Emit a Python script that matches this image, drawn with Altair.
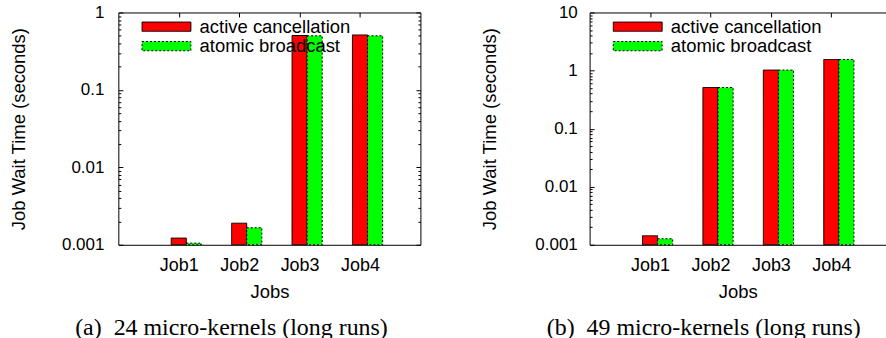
import altair as alt
import pandas as pd

jobs = ["Job1", "Job2", "Job3", "Job4"]
series = ["active cancellation", "atomic broadcast"]
left_active = [0.00122, 0.0019, 0.504, 0.513]
left_atomic = [0.00105, 0.00166, 0.50, 0.50]
right_active = [0.00143, 0.51, 1.02, 1.55]
right_atomic = [0.00127, 0.51, 1.02, 1.55]
left_ticks = [0.001, 0.01, 0.1, 1]
right_ticks = [0.001, 0.01, 0.1, 1, 10]
colors = ["#ff0000", "#00ff00"]
outline = ["black", "black"]
dashes = [[1, 0], [2, 2]]
caption_a = "(a)\u200224 micro-kernels (long runs)"
caption_b = "(b)\u200249 micro-kernels (long runs)"
y_title = "Job Wait Time (seconds)"
x_title = "Jobs"

FONT = "Liberation Sans"
H = 233


def minor_ticks(major):
    return [round(m * k, 6) for m in major[:-1] for k in range(2, 10)]


def panel(active, atomic, ticks, caption, width, span, align, label_pad,
          title_x, dx, right_border):
    df = pd.DataFrame({
        "job": jobs * 2,
        "series": [series[0]] * len(jobs) + [series[1]] * len(jobs),
        "value": active + atomic,
    })
    pad_outer = (span - 3.5) / 2
    step = width / span
    tick_off = -0.25 * 0.5 * step
    xs = alt.Scale(domain=jobs, paddingInner=0.5, paddingOuter=pad_outer, align=align)
    ys = alt.Scale(type="log", domain=[ticks[0], ticks[-1]])
    leg = alt.Legend(
        title=None, orient="none", legendX=23.5, legendY=5.0,
        symbolType="M-5.27,-1H5.27V1H-5.27Z", symbolSize=86.5,
        symbolStrokeColor="black", symbolStrokeWidth=1, symbolOffset=15.5,
        symbolOpacity=1, labelOffset=24, labelFont=FONT, labelFontSize=18.5,
        labelColor="black", rowPadding=0.5, padding=0, labelLimit=0,
    )
    bars = alt.Chart(df).mark_bar(strokeWidth=1).encode(
        x=alt.X("job:N", scale=xs, axis=alt.Axis(
            orient="bottom", title=x_title, ticks=False, tickSize=0,
            labelPadding=12, labelAngle=0, tickOffset=tick_off,
            labelFontSize=18, titleFontSize=18.5, titleY=38, titleBaseline="top")),
        xOffset=alt.XOffset("series:N", scale=alt.Scale(domain=series, paddingInner=0, paddingOuter=0)),
        y=alt.Y("value:Q", scale=ys, axis=alt.Axis(
            orient="left", values=ticks, format="~g", ticks=False, tickSize=0,
            labelPadding=label_pad, labelFontSize=17, title=y_title,
            titleFontSize=18.5, titleX=title_x, titleBaseline="middle")),
        y2=alt.datum(ticks[0]),
        fill=alt.Fill("series:N", scale=alt.Scale(domain=series, range=colors), legend=leg),
        stroke=alt.Stroke("series:N", scale=alt.Scale(domain=series, range=outline), legend=leg),
        strokeDash=alt.StrokeDash("series:N", scale=alt.Scale(domain=series, range=dashes), legend=leg),
    )

    def ghost(x_axis, y_axis):
        return alt.Chart(df).mark_point(opacity=0).encode(
            x=alt.X("job:N", scale=xs, axis=x_axis),
            y=alt.Y("value:Q", scale=ys, axis=y_axis),
        )

    layers = [
        bars,
        ghost(
            alt.Axis(orient="bottom", offset=-H, labels=False, ticks=True, tickSize=4.5,
                     domain=True, tickOffset=tick_off, title=None),
            alt.Axis(orient="right", offset=-width, values=ticks, labels=False,
                     tickSize=4.5, domain=False, title=None),
        ),
        ghost(None, alt.Axis(orient="right", offset=-width, values=minor_ticks(ticks),
                             labels=False, tickSize=2.5, domain=False, title=None)),
    ]
    if right_border:
        layers += [
            ghost(None, alt.Axis(orient="left", offset=-width, values=ticks, labels=False,
                                 tickSize=4.5, domain=True, title=None)),
            ghost(None, alt.Axis(orient="left", offset=-width, values=minor_ticks(ticks),
                                 labels=False, tickSize=2.5, domain=False, title=None)),
        ]
    return alt.layer(*layers).resolve_axis(x="independent", y="independent").properties(
        width=width, height=H,
        title=alt.TitleParams(
            text=caption, orient="bottom", anchor="middle", frame="group",
            font="Liberation Serif", fontSize=24, fontWeight="normal", color="black",
            dx=dx, offset=15, baseline="top"),
    )


left = panel(left_active, left_atomic, left_ticks, caption_a, 303, 5.0, 0.5833, 14.5,
             -100, -38, True)
right = panel(right_active, right_atomic, right_ticks, caption_b, 297, 4.9, 0.625, 12.4,
              -100, -34, False)

chart = alt.hconcat(left, right, spacing=169.7, bounds="flush").resolve_legend(
    fill="independent", stroke="independent", strokeDash="independent"
).properties(
    padding={"left": 8.7, "top": 3, "right": 0, "bottom": 0}
).configure_view(stroke=None).configure_axis(
    labelFont=FONT, titleFont=FONT, labelColor="black", titleColor="black",
    domainColor="black", tickColor="black", titleFontWeight="normal", grid=False,
    domainWidth=1, tickWidth=1,
).configure_legend(symbolStrokeColor="black", symbolStrokeWidth=1)

chart.save("out.html", embed_options={"renderer": "svg", "actions": False})
